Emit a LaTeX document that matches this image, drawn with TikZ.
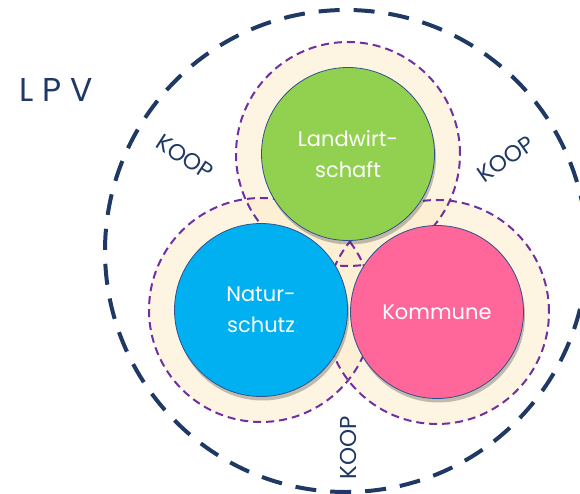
\documentclass[tikz,border=0pt]{standalone}
\usepackage{fontspec}
\setmainfont{Poppins}
\usepackage{tikz}
\usetikzlibrary{shadows}
\definecolor{lpvnavy}{RGB}{31,56,100}
\definecolor{koopviolet}{RGB}{112,48,160}
\definecolor{halobeige}{RGB}{252,234,198}
\definecolor{rimblue}{RGB}{47,82,143}
\definecolor{farmgreen}{RGB}{146,208,80}
\definecolor{natureblue}{RGB}{0,176,240}
\definecolor{townpink}{RGB}{255,102,153}

\begin{document}
\begin{tikzpicture}[x=1pt,y=-1pt,
	actor/.style={circle,draw=rimblue,line width=0.8pt,minimum size=173pt,inner sep=0pt,
		text=white,align=center,font=\fontsize{21}{31}\selectfont,
		drop shadow={shadow xshift=1.5pt,shadow yshift=-4pt,opacity=0.3,fill=black!80}},
	halo/.style={fill=halobeige,fill opacity=0.5},
	ring/.style={draw=koopviolet,line width=2pt,dash pattern=on 8pt off 5pt},
	lpvring/.style={draw=lpvnavy,line width=4pt,dash pattern=on 21pt off 14pt},
	koop/.style={text=lpvnavy,font=\fontsize{23}{23}\selectfont,inner sep=0pt}]
	\useasboundingbox (0,0) rectangle (580,494);
	\coordinate (cl) at (348,154);
	\coordinate (cn) at (261,310);
	\coordinate (ck) at (437,312);
	\coordinate (cv) at (346,251);
	% halos
	\foreach \c in {cl,cn,ck}
		\fill[halo] (\c) circle (112pt);
	\foreach \c in {cl,cn,ck}
		\draw[ring] (\c) circle (112pt);
	\draw[lpvring] (cv) circle (241pt);
	% partners
	\node[actor,fill=farmgreen] (landwirtschaft) at (cl) {Landwirt-\\schaft};
	\node[actor,fill=natureblue] (naturschutz) at (cn) {Natur-\\schutz};
	\node[actor,fill=townpink] (kommune) at (ck) {Kommune};
	% labels
	\node[text=lpvnavy,font=\fontsize{33}{33}\selectfont] (lpv) at (56,90) {L P V};
	\node[koop,rotate=-33] (koopleft) at (185,157) {KOOP};
	\node[koop,rotate=35] (koopright) at (506,159) {KOOP};
	\node[koop,rotate=90] (koopbottom) at (348,448) {KOOP};
\end{tikzpicture}
\end{document}
